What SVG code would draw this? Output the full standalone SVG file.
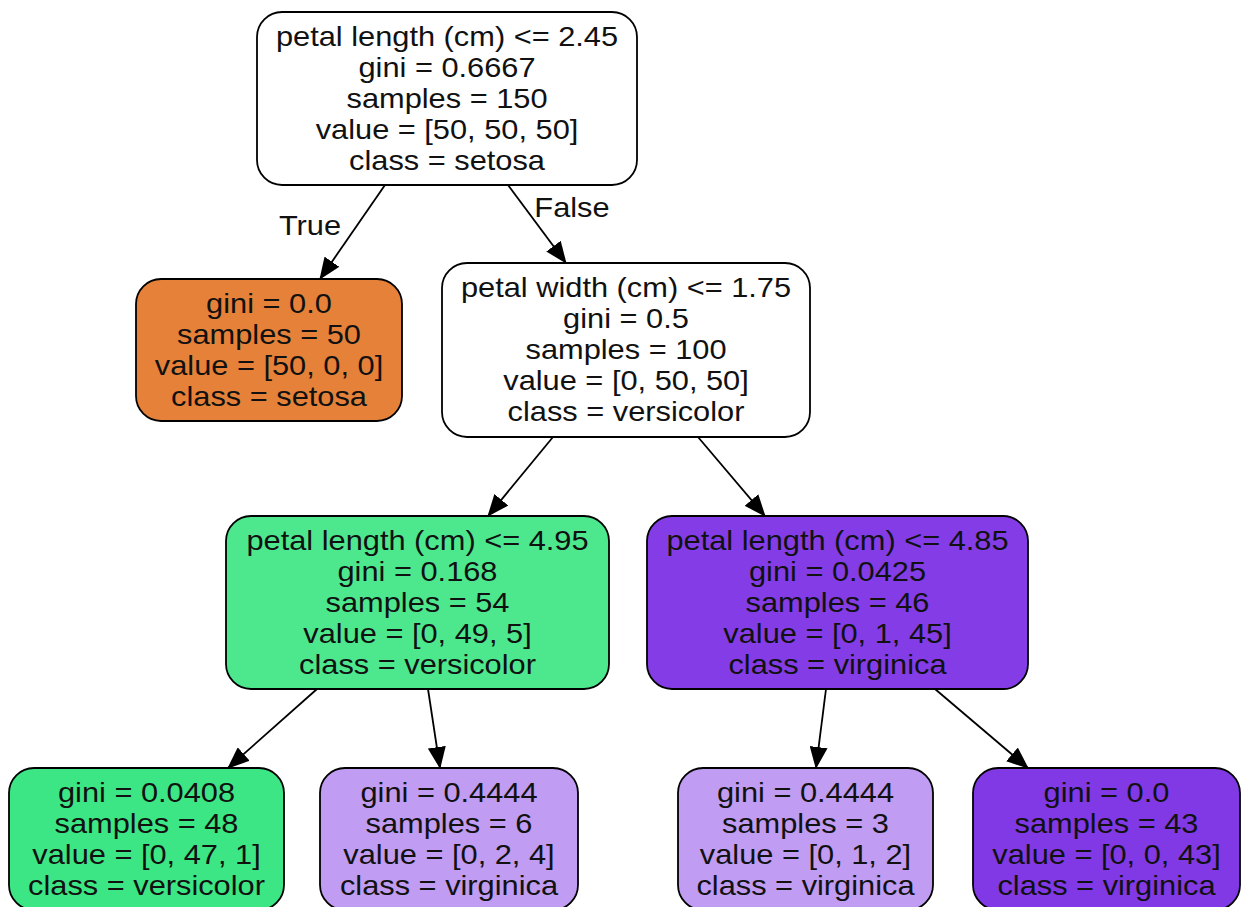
<svg xmlns="http://www.w3.org/2000/svg" width="1244" height="907" viewBox="0 0 1244 907">
  <style>
    .node { stroke: #000; stroke-width: 1.8; }
    .lbl { font-family: "Liberation Sans", Arial, Helvetica, sans-serif; font-size: 28.5px; fill: #111; text-anchor: middle; }
    .edge { stroke: #000; stroke-width: 1.8; fill: none; marker-end: url(#arrow); }
  </style>
  <defs>
    <marker id="arrow" viewBox="0 0 22 18" refX="21" refY="9" markerWidth="22" markerHeight="18" markerUnits="userSpaceOnUse" orient="auto">
      <path d="M0,0 L22,9 L0,18 z" fill="#000"/>
    </marker>
  </defs>
  <rect width="1244" height="907" fill="#fff"/>

  <!-- connectors -->
  <g id="edges">
    <line class="edge" x1="385" y1="185" x2="320" y2="279"/>
    <line class="edge" x1="508" y1="185" x2="566" y2="263"/>
    <line class="edge" x1="553" y1="437" x2="488" y2="516"/>
    <line class="edge" x1="698" y1="437" x2="765" y2="516"/>
    <line class="edge" x1="317" y1="689" x2="228" y2="768"/>
    <line class="edge" x1="428" y1="689" x2="440" y2="768"/>
    <line class="edge" x1="826" y1="689" x2="816" y2="768"/>
    <line class="edge" x1="935" y1="689" x2="1028" y2="768"/>
    <g transform="translate(310,235) scale(1.08,1)"><text class="lbl" x="0" y="0">True</text></g>
    <g transform="translate(572,217) scale(1.08,1)"><text class="lbl" x="0" y="0">False</text></g>
  </g>

  <!-- root split -->
  <g id="node0">
    <rect class="node" x="257" y="12" width="380" height="173" rx="25" fill="#ffffff"/>
    <g transform="translate(447,0) scale(1.08,1)">
      <text class="lbl" x="0" y="46">petal length (cm) &lt;= 2.45</text>
      <text class="lbl" x="0" y="77">gini = 0.6667</text>
      <text class="lbl" x="0" y="108">samples = 150</text>
      <text class="lbl" x="0" y="139">value = [50, 50, 50]</text>
      <text class="lbl" x="0" y="170">class = setosa</text>
    </g>
  </g>

  <!-- setosa leaf -->
  <g id="node1">
    <rect class="node" x="136" y="279" width="266" height="142" rx="25" fill="#e58139"/>
    <g transform="translate(269,0) scale(1.08,1)">
      <text class="lbl" x="0" y="313">gini = 0.0</text>
      <text class="lbl" x="0" y="344">samples = 50</text>
      <text class="lbl" x="0" y="375">value = [50, 0, 0]</text>
      <text class="lbl" x="0" y="406">class = setosa</text>
    </g>
  </g>

  <!-- petal width split -->
  <g id="node2">
    <rect class="node" x="442" y="263" width="368" height="174" rx="25" fill="#ffffff"/>
    <g transform="translate(626,0) scale(1.08,1)">
      <text class="lbl" x="0" y="297">petal width (cm) &lt;= 1.75</text>
      <text class="lbl" x="0" y="328">gini = 0.5</text>
      <text class="lbl" x="0" y="359">samples = 100</text>
      <text class="lbl" x="0" y="390">value = [0, 50, 50]</text>
      <text class="lbl" x="0" y="421">class = versicolor</text>
    </g>
  </g>

  <!-- versicolor split -->
  <g id="node3">
    <rect class="node" x="226" y="516" width="383" height="173" rx="25" fill="#4de88e"/>
    <g transform="translate(417.5,0) scale(1.08,1)">
      <text class="lbl" x="0" y="550">petal length (cm) &lt;= 4.95</text>
      <text class="lbl" x="0" y="581">gini = 0.168</text>
      <text class="lbl" x="0" y="612">samples = 54</text>
      <text class="lbl" x="0" y="643">value = [0, 49, 5]</text>
      <text class="lbl" x="0" y="674">class = versicolor</text>
    </g>
  </g>

  <!-- virginica split -->
  <g id="node4">
    <rect class="node" x="647" y="516" width="381" height="173" rx="25" fill="#843de6"/>
    <g transform="translate(837.5,0) scale(1.08,1)">
      <text class="lbl" x="0" y="550">petal length (cm) &lt;= 4.85</text>
      <text class="lbl" x="0" y="581">gini = 0.0425</text>
      <text class="lbl" x="0" y="612">samples = 46</text>
      <text class="lbl" x="0" y="643">value = [0, 1, 45]</text>
      <text class="lbl" x="0" y="674">class = virginica</text>
    </g>
  </g>

  <!-- leaves -->
  <g id="node5">
    <rect class="node" x="9" y="768" width="275" height="142" rx="25" fill="#3de684"/>
    <g transform="translate(146.5,0) scale(1.08,1)">
      <text class="lbl" x="0" y="802">gini = 0.0408</text>
      <text class="lbl" x="0" y="833">samples = 48</text>
      <text class="lbl" x="0" y="864">value = [0, 47, 1]</text>
      <text class="lbl" x="0" y="895">class = versicolor</text>
    </g>
  </g>

  <g id="node6">
    <rect class="node" x="320" y="768" width="258" height="142" rx="25" fill="#c09cf2"/>
    <g transform="translate(449,0) scale(1.08,1)">
      <text class="lbl" x="0" y="802">gini = 0.4444</text>
      <text class="lbl" x="0" y="833">samples = 6</text>
      <text class="lbl" x="0" y="864">value = [0, 2, 4]</text>
      <text class="lbl" x="0" y="895">class = virginica</text>
    </g>
  </g>

  <g id="node7">
    <rect class="node" x="678" y="768" width="255" height="142" rx="25" fill="#c09cf2"/>
    <g transform="translate(805.5,0) scale(1.08,1)">
      <text class="lbl" x="0" y="802">gini = 0.4444</text>
      <text class="lbl" x="0" y="833">samples = 3</text>
      <text class="lbl" x="0" y="864">value = [0, 1, 2]</text>
      <text class="lbl" x="0" y="895">class = virginica</text>
    </g>
  </g>

  <g id="node8">
    <rect class="node" x="973" y="768" width="267" height="142" rx="25" fill="#8139e5"/>
    <g transform="translate(1106.5,0) scale(1.08,1)">
      <text class="lbl" x="0" y="802">gini = 0.0</text>
      <text class="lbl" x="0" y="833">samples = 43</text>
      <text class="lbl" x="0" y="864">value = [0, 0, 43]</text>
      <text class="lbl" x="0" y="895">class = virginica</text>
    </g>
  </g>
</svg>
